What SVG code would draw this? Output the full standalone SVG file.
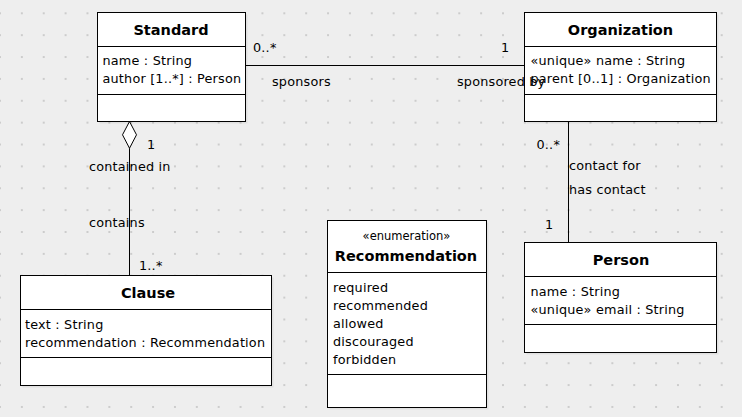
<svg xmlns="http://www.w3.org/2000/svg" width="742" height="417" viewBox="0 0 742 417">
<defs>
<pattern id="grid" patternUnits="userSpaceOnUse" x="-1" y="12.3" width="21.87" height="21.87">
<rect x="0" y="0" width="2" height="2" fill="#cccccc"/>
</pattern>
<style>
.box{fill:#ffffff;stroke:#000000;stroke-width:1}
.shadow{fill:#000000;opacity:0.06}
.div{stroke:#000000;stroke-width:1}
.title{font-family:"DejaVu Sans",sans-serif;font-weight:bold;font-size:14.5px;fill:#000;text-anchor:middle}
.stereo{font-family:"DejaVu Sans",sans-serif;font-size:11.5px;fill:#000;text-anchor:middle}
.attr{font-family:"DejaVu Sans",sans-serif;font-size:12.8px;letter-spacing:0.2px;fill:#000}
.lbl{font-family:"DejaVu Sans",sans-serif;font-size:12.8px;letter-spacing:0.2px;fill:#000}
.conn{stroke:#000000;stroke-width:1;fill:none}
</style>
</defs>
<rect x="0" y="0" width="742" height="417" fill="#eeeeee"/>
<rect x="0" y="0" width="742" height="417" fill="url(#grid)"/>

<g id="connectors">
<line class="conn" x1="245.5" y1="65.5" x2="524.5" y2="65.5"/>
<polygon points="129.5,121.5 136.5,134.8 129.5,148.2 122.5,134.8" fill="#ffffff" stroke="#000" stroke-width="1"/>
<line class="conn" x1="129.5" y1="148.2" x2="129.5" y2="275.5"/>
<line class="conn" x1="568.5" y1="121.5" x2="568.5" y2="242.5"/>
</g>

<g id="standard">
<rect class="shadow" x="99.5" y="14.5" width="148" height="109"/>
<rect class="box" x="97.5" y="12.5" width="148" height="109"/>
<line class="div" x1="97.5" y1="46.5" x2="245.5" y2="46.5"/>
<line class="div" x1="97.5" y1="94.5" x2="245.5" y2="94.5"/>
<text class="title" x="171" y="35">Standard</text>
<text class="attr" x="102.5" y="65">name : String</text>
<text class="attr" x="102.5" y="83">author [1..*] : Person</text>
</g>

<g id="organization">
<rect class="shadow" x="526.5" y="14.5" width="192" height="109"/>
<rect class="box" x="524.5" y="12.5" width="192" height="109"/>
<line class="div" x1="524.5" y1="46.5" x2="716.5" y2="46.5"/>
<line class="div" x1="524.5" y1="94.5" x2="716.5" y2="94.5"/>
<text class="title" x="620.5" y="35">Organization</text>
<text class="attr" x="530.5" y="65">«unique» name : String</text>
<text class="attr" x="530.5" y="83">parent [0..1] : Organization</text>
</g>

<g id="clause">
<rect class="shadow" x="22.5" y="277.5" width="251" height="110"/>
<rect class="box" x="20.5" y="275.5" width="251" height="110"/>
<line class="div" x1="20.5" y1="309.5" x2="271.5" y2="309.5"/>
<line class="div" x1="20.5" y1="357.5" x2="271.5" y2="357.5"/>
<text class="title" x="148" y="298">Clause</text>
<text class="attr" x="25" y="328.5">text : String</text>
<text class="attr" x="25" y="346.5">recommendation : Recommendation</text>
</g>

<g id="recommendation">
<rect class="shadow" x="329.5" y="222.5" width="159" height="187"/>
<rect class="box" x="327.5" y="220.5" width="159" height="187"/>
<line class="div" x1="327.5" y1="272.5" x2="486.5" y2="272.5"/>
<line class="div" x1="327.5" y1="374.5" x2="486.5" y2="374.5"/>
<text class="stereo" x="406.5" y="239.5">«enumeration»</text>
<text class="title" x="406" y="261">Recommendation</text>
<text class="attr" x="333" y="291.5">required</text>
<text class="attr" x="333" y="309.5">recommended</text>
<text class="attr" x="333" y="327.5">allowed</text>
<text class="attr" x="333" y="345.5">discouraged</text>
<text class="attr" x="333" y="363.5">forbidden</text>
</g>

<g id="person">
<rect class="shadow" x="526.5" y="244.5" width="192" height="110"/>
<rect class="box" x="524.5" y="242.5" width="192" height="110"/>
<line class="div" x1="524.5" y1="276.5" x2="716.5" y2="276.5"/>
<line class="div" x1="524.5" y1="324.5" x2="716.5" y2="324.5"/>
<text class="title" x="621" y="265">Person</text>
<text class="attr" x="530.5" y="295.5">name : String</text>
<text class="attr" x="530.5" y="313.5">«unique» email : String</text>
</g>

<g id="connector-labels">
<text class="lbl" x="253" y="52">0..*</text>
<text class="lbl" x="272" y="86">sponsors</text>
<text class="lbl" x="501" y="52">1</text>
<text class="lbl" x="457" y="86">sponsored by</text>
<text class="lbl" x="147" y="149">1</text>
<text class="lbl" x="89" y="170.5">contained in</text>
<text class="lbl" x="89" y="227">contains</text>
<text class="lbl" x="139" y="269.5">1..*</text>
<text class="lbl" x="536.5" y="149">0..*</text>
<text class="lbl" x="569" y="170">contact for</text>
<text class="lbl" x="569" y="194">has contact</text>
<text class="lbl" x="545" y="228.5">1</text>
</g>
</svg>
